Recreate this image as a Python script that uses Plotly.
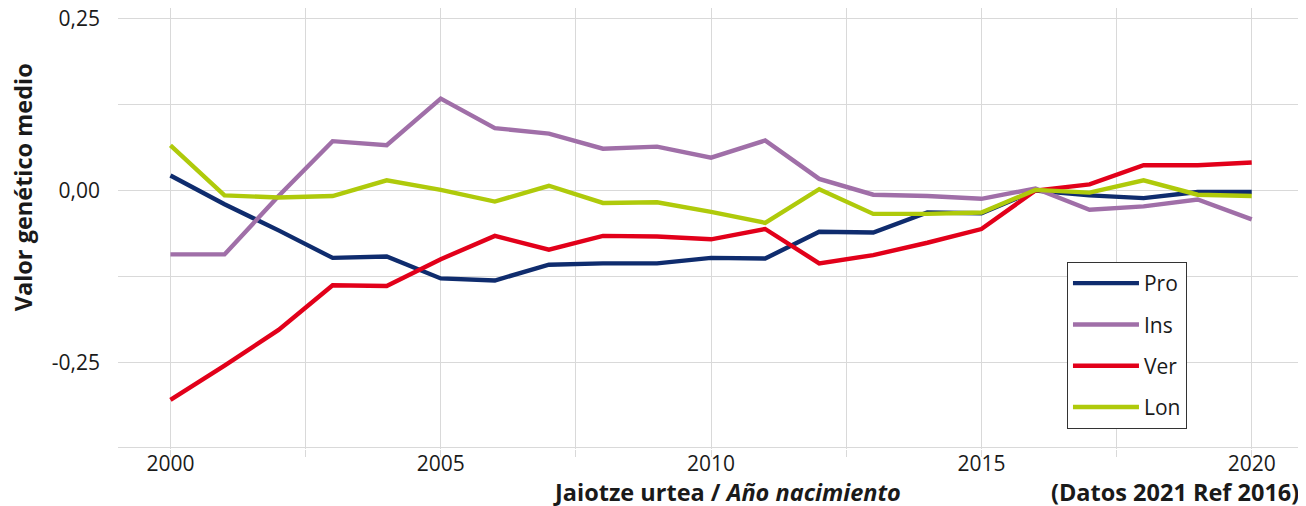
import plotly.graph_objects as go

years = list(range(2000, 2021))

pro = [0.022, -0.020, -0.058, -0.098, -0.096, -0.128, -0.131, -0.108, -0.106, -0.106,
       -0.098, -0.099, -0.060, -0.061, -0.032, -0.033, 0.000, -0.007, -0.011, -0.002, -0.002]
ins = [-0.093, -0.093, -0.008, 0.072, 0.066, 0.134, 0.091, 0.083, 0.061, 0.064,
       0.048, 0.073, 0.017, -0.006, -0.008, -0.012, 0.003, -0.028, -0.023, -0.013, -0.042]
ver = [-0.305, -0.255, -0.203, -0.138, -0.139, -0.100, -0.066, -0.086, -0.066, -0.067,
       -0.071, -0.056, -0.106, -0.094, -0.076, -0.056, 0.000, 0.009, 0.037, 0.037, 0.041]
lon = [0.066, -0.007, -0.010, -0.008, 0.015, 0.001, -0.016, 0.007, -0.018, -0.017,
       -0.031, -0.047, 0.002, -0.034, -0.034, -0.032, 0.001, -0.003, 0.015, -0.006, -0.008]

series_names = ["Pro", "Ins", "Ver", "Lon"]
series_values = [pro, ins, ver, lon]
colors = ["#0f2c6e", "#a06fa8", "#e2001a", "#afca0b"]

x_tickvals = [2000, 2005, 2010, 2015, 2020]
x_ticktext = ["2000", "2005", "2010", "2015", "2020"]
y_tickvals = [-0.375, -0.25, -0.125, 0, 0.125, 0.25]
y_ticktext = ["", "-0,25", "", "0,00", "", "0,25"]

FONT = "Open Sans, Noto Sans, sans-serif"

fig = go.Figure()
for name, vals, col in zip(series_names, series_values, colors):
    fig.add_trace(go.Scatter(x=years, y=vals, mode="lines", name=name,
                             legendgroup=name,
                             line=dict(color=col, width=4.4)))

grid = "#d9d9d9"
fig.update_layout(
    width=1298, height=498,
    margin=dict(l=110, r=4, t=0, b=57, autoexpand=False),
    paper_bgcolor="white", plot_bgcolor="white",
    font=dict(family=FONT, size=21, color="#1a1a1a"),
    xaxis=dict(range=[1999.03, 2020.93], tickmode="array", tickvals=x_tickvals,
               ticktext=x_ticktext, showgrid=True, gridcolor=grid, gridwidth=1.3,
               ticks="", zeroline=False, showline=False, tickfont=dict(size=21),
               minor=dict(tick0=2000, dtick=2.5, ticks="outside", ticklen=7,
                          tickcolor=grid, tickwidth=1.3, showgrid=True,
                          gridcolor=grid, gridwidth=1.3)),
    yaxis=dict(range=[-0.3765, 0.266], tickmode="array", tickvals=y_tickvals,
               ticktext=y_ticktext, showgrid=True, gridcolor=grid, gridwidth=1.3,
               zeroline=False, showline=False, ticks="", ticklabelstandoff=17,
               ticklabeloverflow="allow", tickfont=dict(size=21)),
    legend=dict(x=0.8015, y=0.424, xanchor="left", yanchor="top",
                bgcolor="white", bordercolor="#333333", borderwidth=1,
                font=dict(size=21), tracegroupgap=11, traceorder="grouped",
                itemwidth=66),
    showlegend=True,
)

fig.add_annotation(text="<b>Valor genético medio</b>", xref="paper", yref="paper",
                   x=-0.080, y=0.594, xanchor="center", yanchor="middle",
                   textangle=-90, showarrow=False, font=dict(size=23.5))
fig.add_annotation(text="<b>Jaiotze urtea / <i>Año nacimiento</i></b>", xref="paper", yref="paper",
                   x=0.514, y=-0.0975, xanchor="center", yanchor="middle",
                   showarrow=False, font=dict(size=23.5))
fig.add_annotation(text="<b>(Datos 2021 Ref 2016)</b>", xref="paper", yref="paper",
                   x=0.9995, y=-0.0975, xanchor="right", yanchor="middle",
                   showarrow=False, font=dict(size=23.5))

fig.write_html("out.html")
